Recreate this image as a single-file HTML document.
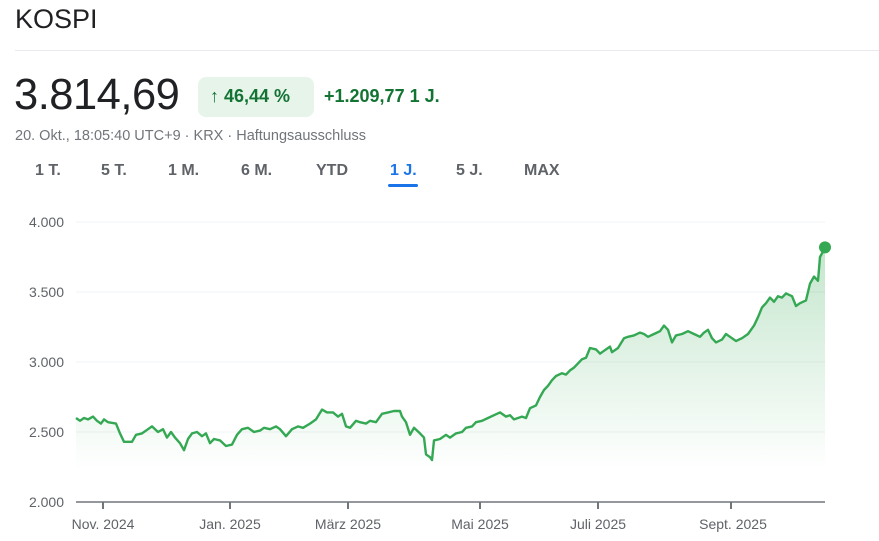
<!DOCTYPE html>
<html><head><meta charset="utf-8"><style>
body{margin:0;width:879px;height:541px;background:#fff;font-family:"Liberation Sans",Arial,sans-serif;position:relative;overflow:hidden}
.a{position:absolute;white-space:nowrap}
</style></head><body>
<div class="a" style="left:15px;top:4px;font-size:27px;color:#202124">KOSPI</div>
<div class="a" style="left:15px;top:50px;width:864px;height:1px;background:#e8eaed"></div>
<div class="a" style="left:14px;top:71px;font-size:43.5px;color:#202124;letter-spacing:-0.5px">3.814,69</div>
<div class="a" style="left:198px;top:77px;width:116px;height:40px;border-radius:8px;background:#e6f4ea"></div>
<div class="a" style="left:210px;top:86px;font-size:18px;color:#137333;font-weight:bold">↑ 46,44 %</div>
<div class="a" style="left:324px;top:86px;font-size:18px;color:#137333;font-weight:bold">+1.209,77 1 J.</div>
<div class="a" style="left:15px;top:128px;font-size:14.5px;color:#70757a">20. Okt., 18:05:40 UTC+9 · KRX · Haftungsausschluss</div>
<div style="font-size:16px;color:#5f6368;font-weight:bold">
<div class="a" style="left:35px;top:162px">1 T.</div>
<div class="a" style="left:101px;top:162px">5 T.</div>
<div class="a" style="left:168px;top:162px">1 M.</div>
<div class="a" style="left:241px;top:162px">6 M.</div>
<div class="a" style="left:316px;top:162px">YTD</div>
<div class="a" style="left:390px;top:162px;color:#1a73e8">1 J.</div>
<div class="a" style="left:456px;top:162px">5 J.</div>
<div class="a" style="left:524px;top:162px">MAX</div>
</div>
<div class="a" style="left:388px;top:184px;width:30px;height:3px;border-radius:2px;background:#1a73e8"></div>
<svg class="a" style="left:0;top:0" width="879" height="541" id="s">
<defs><linearGradient id="g" gradientUnits="userSpaceOnUse" x1="0" y1="240" x2="0" y2="470">
<stop offset="0" stop-color="#34a853" stop-opacity="0.3"/><stop offset="1" stop-color="#34a853" stop-opacity="0"/></linearGradient></defs>
<g stroke="#f1f3f4" stroke-width="1">
<line x1="76" x2="825" y1="222" y2="222"/><line x1="76" x2="825" y1="292" y2="292"/><line x1="76" x2="825" y1="362" y2="362"/><line x1="76" x2="825" y1="432" y2="432"/></g>
<line x1="76" x2="825" y1="502" y2="502" stroke="#70757a" stroke-width="1.5"/>
<g stroke="#70757a" stroke-width="2"><line x1="103" x2="103" y1="502" y2="509"/><line x1="230" x2="230" y1="502" y2="509"/><line x1="348" x2="348" y1="502" y2="509"/><line x1="480" x2="480" y1="502" y2="509"/><line x1="598" x2="598" y1="502" y2="509"/><line x1="731" x2="731" y1="502" y2="509"/></g>
<g font-size="14" fill="#5f6368" text-anchor="end"><text x="64" y="227">4.000</text><text x="64" y="297">3.500</text><text x="64" y="367">3.000</text><text x="64" y="437">2.500</text><text x="64" y="507">2.000</text></g>
<g font-size="14" fill="#5f6368" text-anchor="middle"><text x="103" y="529">Nov. 2024</text><text x="230" y="529">Jan. 2025</text><text x="348" y="529">März 2025</text><text x="480" y="529">Mai 2025</text><text x="598" y="529">Juli 2025</text><text x="733" y="529">Sept. 2025</text></g>
<path id="f" fill="url(#g)"/>
<path id="l" fill="none" stroke="#34a853" stroke-width="2.4" stroke-linejoin="round"/>
<circle cx="825" cy="247.4" r="6" fill="#34a853"/>
</svg>
<script>
var d=[76,2600,80,2580,84,2600,88,2590,93,2610,97,2580,101,2560,104,2590,108,2570,116,2560,120,2490,124,2430,132,2430,136,2480,142,2490,148,2520,152,2540,158,2500,163,2520,167,2460,171,2500,175,2460,180,2420,184,2370,188,2450,192,2490,197,2500,202,2470,206,2490,210,2420,214,2450,220,2440,226,2400,232,2410,237,2480,242,2520,248,2530,254,2500,260,2510,264,2530,270,2520,276,2540,280,2520,286,2470,292,2520,298,2540,303,2530,310,2560,316,2590,322,2660,327,2640,333,2640,338,2610,342,2630,346,2540,350,2530,356,2580,360,2570,366,2560,370,2580,376,2570,382,2630,388,2640,394,2650,400,2650,402,2610,406,2570,410,2480,414,2530,420,2490,424,2460,426,2340,430,2320,432,2300,434,2440,440,2450,446,2480,450,2460,456,2490,462,2500,466,2530,472,2540,476,2570,482,2580,488,2600,494,2620,500,2640,506,2610,510,2620,514,2590,518,2600,522,2610,526,2600,530,2670,536,2690,540,2750,544,2800,548,2830,552,2870,556,2900,562,2920,566,2910,570,2940,574,2960,578,2990,582,3020,586,3030,590,3100,596,3090,600,3060,604,3080,610,3110,612,3070,618,3100,624,3170,628,3180,634,3190,640,3210,644,3200,648,3180,654,3200,660,3220,664,3260,668,3230,672,3140,676,3190,682,3200,688,3220,694,3200,700,3180,704,3210,708,3230,712,3170,716,3140,722,3160,726,3200,730,3180,736,3150,742,3170,748,3200,754,3260,758,3320,762,3390,766,3420,770,3460,774,3430,778,3470,782,3460,786,3490,792,3470,796,3400,800,3420,806,3440,810,3560,814,3610,818,3580,820,3750,825,3815];
var p="";for(var i=0;i<d.length;i+=2){p+=(i?"L":"M")+d[i]+","+(502-(d[i+1]-2000)*0.14).toFixed(1);}
document.getElementById("l").setAttribute("d",p);
document.getElementById("f").setAttribute("d",p+"L825,470L76,470Z");
</script>
</body></html>
